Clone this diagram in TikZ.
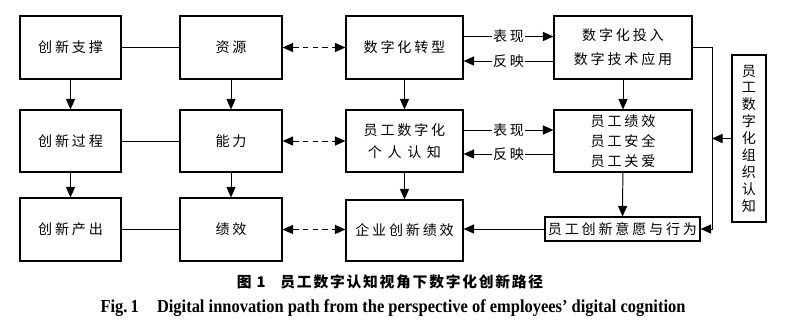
\documentclass[tikz,border=0pt]{standalone}
\usepackage{fontspec}
\setmainfont{Liberation Serif}
\newfontfamily\cjk[LetterSpace=20]{Noto Sans CJK SC}
\newfontfamily\cjkcap[LetterSpace=12]{Noto Sans CJK SC}
\newfontfamily\capen[FakeStretch=0.9]{Liberation Serif}
\usetikzlibrary{
  arrows.meta,
  positioning,
  calc
}

\begin{document}
\begin{tikzpicture}[
      x=0.025cm, y=-0.025cm,
      >={Triangle[length=7.5pt,width=6.5pt]},
      line width=0.7pt,
      box/.style={draw, line width=0.8pt, align=center, inner sep=0pt,
        font=\cjk\fontsize{10}{16}\selectfont},
      lbl/.style={fill=white, inner sep=1pt, font=\cjk\fontsize{10}{12}\selectfont}
  ]
      \useasboundingbox (0,0) rectangle (800,325);

      % Coluna da esquerda
      \node[box, minimum width=2.525cm, minimum height=1.575cm] (apoio) at (70.5,47.5) {创新支撑};
      \node[box, minimum width=2.525cm, minimum height=1.55cm] (processo) at (70.5,141) {创新过程};
      \node[box, minimum width=2.525cm, minimum height=1.575cm] (produto) at (70.5,229.5) {创新产出};

      % Segunda coluna
      \node[box, minimum width=2.55cm, minimum height=1.575cm] (recurso) at (231,47.5) {资源};
      \node[box, minimum width=2.55cm, minimum height=1.55cm] (capacidade) at (231,141) {能力};
      \node[box, minimum width=2.55cm, minimum height=1.575cm] (desempenho) at (231,229.5) {绩效};

      % Terceira coluna
      \node[box, minimum width=2.925cm, minimum height=1.575cm] (transf) at (404.5,47.5) {数字化转型};
      \node[box, minimum width=2.925cm, minimum height=1.55cm] (cognicao) at (404.5,141)
          {员工数字化\\个\hspace{.4em}人\hspace{.4em}认\hspace{.4em}知};
      \node[box, minimum width=2.925cm, minimum height=1.525cm] (empresa) at (404.5,230.5) {企业创新绩效};

      % Quarta coluna
      \node[box, minimum width=3.45cm, minimum height=1.575cm, font=\cjk\fontsize{10}{17}\selectfont]
          (invest) at (623,47.5) {数字化投入\\数字技术应用};
      \node[box, minimum width=3.45cm, minimum height=1.55cm, font=\cjk\fontsize{10}{14}\selectfont]
          (funcionario) at (623,141) {员工绩效\\员工安全\\员工关爱};
      \node[box, minimum width=3.875cm, minimum height=0.6cm] (vontade) at (622.5,229) {员工创新意愿与行为};

      % Caixa vertical
      \node[box, minimum width=0.85cm, minimum height=4.175cm, font=\cjk\fontsize{10}{12}\selectfont]
          (organiz) at (749,138.5) {员\\工\\数\\字\\化\\组\\织\\认\\知};
      \coordinate (junta) at (712,139);

      % Ligações horizontais
      \draw (apoio) -- (recurso);
      \draw (processo) -- (capacidade);
      \draw (produto) -- (desempenho);
      \draw[<->, dashed, dash pattern=on 4pt off 3pt] (recurso) -- (transf);
      \draw[<->, dashed, dash pattern=on 4pt off 3pt] (capacidade) -- (cognicao);
      \draw[<->, dashed, dash pattern=on 4pt off 3pt] (desempenho.east) -- (desempenho.east -| empresa.west);

      % Setas verticais
      \draw[->] (apoio) -- (processo);
      \draw[->] (processo) -- (produto);
      \draw[->] (recurso) -- (capacidade);
      \draw[->] (capacidade) -- (desempenho);
      \draw[->] (transf) -- (cognicao);
      \draw[->] (cognicao) -- (empresa);
      \draw[->] (invest) -- (funcionario);
      \draw[->] (funcionario) -- (vontade);

      % Setas "表现" e "反映"
      \draw[->] ($(transf.east)+(0,-11)$) -- node[lbl] {表现} ($(invest.west)+(0,-11)$);
      \draw[->] ($(invest.west)+(0,13.5)$) -- node[lbl] {反映} ($(transf.east)+(0,13.5)$);
      \draw[->] ($(cognicao.east)+(0,-11)$) -- node[lbl] {表现} ($(funcionario.west)+(0,-11)$);
      \draw[->] ($(funcionario.west)+(0,13)$) -- node[lbl] {反映} ($(cognicao.east)+(0,13)$);

      % Linha da direita
      \draw[->] (vontade.west) -- (vontade.west -| empresa.east);
      \draw[->] (invest.east) -| (junta) |- (vontade.east);
      \draw[->] (organiz.west) -- (organiz.west -| junta);

      % Legendas
      \node[font=\cjkcap\bfseries\fontsize{10.5}{12}\selectfont] (titulo) at (390,282)
          {图 1\quad 员工数字认知视角下数字化创新路径};
      \node[font=\capen\bfseries\fontsize{13}{14}\selectfont] (titulo en) at (393,308)
          {Fig.\,1\quad Digital innovation path from the perspective of employees’ digital cognition};

  \end{tikzpicture}
\end{document}
